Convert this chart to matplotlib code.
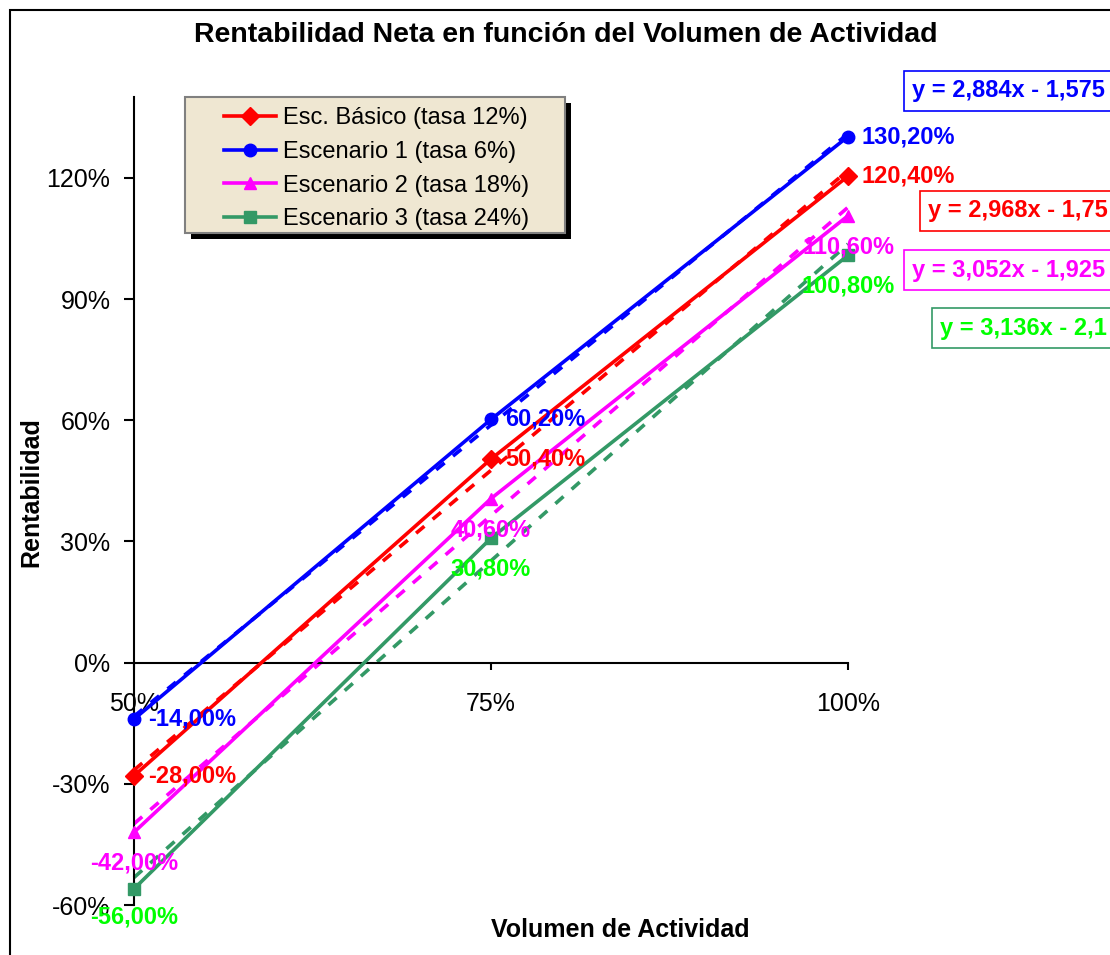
import numpy as np
import matplotlib.pyplot as plt
from matplotlib.patches import Rectangle
from matplotlib.ticker import FuncFormatter

plt.rcParams['font.family'] = ['Liberation Sans', 'DejaVu Sans']

# datos
volumen = [0.50, 0.75, 1.00]
series = ['Esc. Básico (tasa 12%)', 'Escenario 1 (tasa 6%)',
          'Escenario 2 (tasa 18%)', 'Escenario 3 (tasa 24%)']
esc_basico = [-0.28, 0.504, 1.204]
escenario1 = [-0.14, 0.602, 1.302]
escenario2 = [-0.42, 0.406, 1.106]
escenario3 = [-0.56, 0.308, 1.008]
yticks = [-0.6, -0.3, 0.0, 0.3, 0.6, 0.9, 1.2]
xticks = [0.50, 0.75, 1.00]

valores = [esc_basico, escenario1, escenario2, escenario3]
colores = ['#FF0000', '#0000FF', '#FF00FF', '#339966']
col_etiq = ['#FF0000', '#0000FF', '#FF00FF', '#00FF00']
marcas = ['D', 'o', '^', 's']
# posicion de las etiquetas de datos (offset en puntos, ha, va) por punto
pos_etiq = [
    [((10, 0), 'left', 'center'), ((10, 0), 'left', 'center'), ((10, 0), 'left', 'center')],
    [((10, 0), 'left', 'center'), ((10, 0), 'left', 'center'), ((10, 0), 'left', 'center')],
    [((0, -14), 'center', 'top'), ((0, -14), 'center', 'top'), ((0, -14), 'center', 'top')],
    [((0, -12), 'center', 'top'), ((0, -14), 'center', 'top'), ((0, -14), 'center', 'top')],
]
# cajas de ecuaciones (x izq., y centro en pixeles desde arriba)
pos_ecu = [(928, 211), (912, 91), (912, 270), (940, 328)]


def pct(v):
    return f'{v * 100:.2f}%'.replace('.', ',')


def num(v):
    return f'{round(v, 4):g}'.replace('.', ',')


fig = plt.figure(figsize=(11.1, 9.55), dpi=100)
ax = fig.add_axes([134 / 1110, 50 / 955, 714 / 1110, 808 / 955])
ax.set_xlim(0.5, 1.0)
ax.set_ylim(-0.6, 1.4)

for i in range(4):
    ax.plot(volumen, valores[i], color=colores[i], marker=marcas[i], lw=2.6,
            ms=9, label=series[i], zorder=3, clip_on=False)
    m, b = np.polyfit(volumen, valores[i], 1)
    xs = np.array([volumen[0], volumen[-1]])
    ax.plot(xs, m * xs + b, color=colores[i], lw=2.6, ls=(0, (3, 3)), zorder=2,
            clip_on=False)
    for j in range(3):
        off, ha, va = pos_etiq[i][j]
        ax.annotate(pct(valores[i][j]), (volumen[j], valores[i][j]), xytext=off,
                    textcoords='offset points', ha=ha, va=va, color=col_etiq[i],
                    fontsize=17, fontweight='bold', zorder=5)
    signo = '-' if b < 0 else '+'
    fig.text(pos_ecu[i][0] / 1110, 1 - pos_ecu[i][1] / 955,
             f'y = {num(m)}x {signo} {num(abs(b))}', color=col_etiq[i],
             fontsize=17, fontweight='bold', ha='left', va='center',
             bbox=dict(boxstyle='square,pad=0.35', fc='white', ec=colores[i], lw=1.2))

ax.set_xticks(xticks)
ax.set_yticks(yticks)
ax.xaxis.set_major_formatter(FuncFormatter(lambda v, p: f'{v * 100:.0f}%'))
ax.yaxis.set_major_formatter(FuncFormatter(lambda v, p: f'{v * 100:.0f}%'))
ax.spines['top'].set_visible(False)
ax.spines['right'].set_visible(False)
ax.spines['bottom'].set_position(('data', 0))
ax.spines['left'].set_linewidth(1.5)
ax.spines['bottom'].set_linewidth(1.5)
ax.tick_params(axis='y', direction='out', length=7, width=1.5, labelsize=18, pad=10)
ax.tick_params(axis='x', direction='out', length=5, width=1.5, labelsize=18, pad=16)
for lab in ax.get_xticklabels():
    lab.set_zorder(1)

fig.text(31 / 1110, 1 - 492 / 955, 'Rentabilidad', fontsize=18, fontweight='bold',
         rotation=90, ha='center', va='center')
fig.text(620 / 1110, 1 - 930 / 955, 'Volumen de Actividad', fontsize=18,
         fontweight='bold', ha='center', va='center')
fig.text(566 / 1110, 1 - 35 / 955, 'Rentabilidad Neta en función del Volumen de Actividad',
         fontsize=20.5, fontweight='bold', ha='center', va='center')

# marco de la leyenda con sombra (estilo Excel)
lx0, ly0, lx1, ly1 = 185, 97, 565, 233
ax.add_patch(Rectangle(((lx0 + 6) / 1110, 1 - (ly1 + 6) / 955), (lx1 - lx0) / 1110,
                       (ly1 - ly0) / 955, transform=fig.transFigure, clip_on=False,
                       fc='black', ec='none', zorder=4))
ax.add_patch(Rectangle((lx0 / 1110, 1 - ly1 / 955), (lx1 - lx0) / 1110,
                       (ly1 - ly0) / 955, transform=fig.transFigure, clip_on=False,
                       fc='#EFE7D2', ec='#808080', lw=1.5, zorder=4.5))
leg = ax.legend(loc='upper left', bbox_to_anchor=(224 / 1110, 1 - 107 / 955),
                bbox_transform=fig.transFigure, fontsize=17, frameon=False,
                handlelength=2.2, borderpad=0, labelspacing=0.5,
                handletextpad=0.3, borderaxespad=0)
leg.set_zorder(6)

fig.patches.append(Rectangle((10 / 1110, -0.01), 1.2, (945 / 955) + 0.01,
                             transform=fig.transFigure, fill=False, ec='black', lw=1.5))

fig.savefig('out.png', dpi=100)
